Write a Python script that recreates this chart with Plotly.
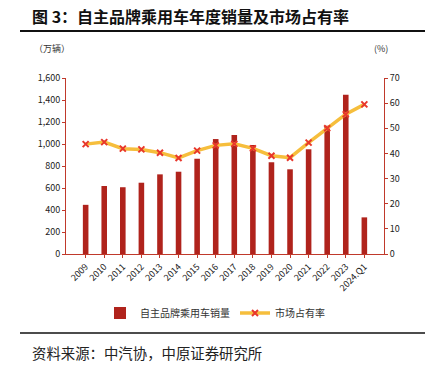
import plotly.graph_objects as go

categories = ["2009", "2010", "2011", "2012", "2013", "2014", "2015", "2016",
              "2017", "2018", "2019", "2020", "2021", "2022", "2023", "2024.Q1"]
sales = [447, 618, 607, 648, 724, 748, 866, 1045, 1082, 991, 834, 770, 952, 1166, 1448, 333]
share = [43.7, 44.5, 41.9, 41.6, 40.3, 38.2, 41.1, 43.2, 43.8, 42.0, 39.1, 38.3, 44.3, 50.0, 55.6, 59.5]

left_ticks = [0, 200, 400, 600, 800, 1000, 1200, 1400, 1600]
right_ticks = [0, 10, 20, 30, 40, 50, 60, 70]

RED = "#B0231C"
AXIS = "#C0392B"
FONT = "Noto Sans CJK SC"
W, H = 430.0, 371.0


def fx(px):
    return px / W


def fy(py):
    return 1 - py / H


fig = go.Figure()
fig.add_trace(go.Bar(x=categories, y=sales, name="自主品牌乘用车销量",
                     marker=dict(color=RED, line=dict(width=0)), width=0.3, yaxis="y"))
fig.add_trace(go.Scatter(x=categories, y=share, name="市场占有率", yaxis="y2",
                         mode="lines+markers",
                         line=dict(color="#F6BE3C", width=3.5),
                         marker=dict(symbol="x-thin", size=6, color="#E8372C",
                                     line=dict(color="#E8372C", width=2))))

# decorative header / footer rules on a full-page overlay axis (pixel units)
for y_px, lw in [(31, 2), (333, 1.5)]:
    fig.add_trace(go.Scatter(x=[20, 425], y=[y_px, y_px], xaxis="x3", yaxis="y3",
                             mode="lines", line=dict(color="#111", width=lw),
                             showlegend=False, hoverinfo="skip"))

fig.update_layout(
    width=430, height=371,
    margin=dict(l=0, r=0, t=0, b=0, autoexpand=False),
    paper_bgcolor="white", plot_bgcolor="rgba(0,0,0,0)",
    font=dict(family=FONT, size=10, color="#222"),
    showlegend=True,
    legend=dict(orientation="h", x=0.5, xanchor="center", y=fy(313), yanchor="middle",
                font=dict(size=10, color="#333"), tracegroupgap=0,
                bgcolor="rgba(0,0,0,0)"),
    xaxis=dict(type="category", domain=[fx(66), fx(384)], showline=True, linecolor=AXIS,
               linewidth=1, ticks="outside", tickcolor=AXIS, ticklen=3, tickangle=-45,
               tickfont=dict(size=9, family=FONT), showgrid=False),
    yaxis=dict(range=[0, 1600], domain=[fy(254), fy(78)], tickvals=left_ticks,
               ticktext=[f"{v:,}" for v in left_ticks],
               showline=True, linecolor=AXIS, linewidth=1, ticks="outside",
               tickcolor=AXIS, ticklen=3, showgrid=False, zeroline=False,
               tickfont=dict(size=9, family=FONT)),
    yaxis2=dict(range=[0, 70], tickvals=right_ticks, overlaying="y", side="right",
                showline=True, linecolor=AXIS, linewidth=1, ticks="outside",
                tickcolor=AXIS, ticklen=3, showgrid=False, zeroline=False,
                tickfont=dict(size=9, family=FONT)),
    xaxis3=dict(domain=[0, 1], range=[0, W], visible=False, anchor="y3", fixedrange=True),
    yaxis3=dict(domain=[0, 1], range=[H, 0], visible=False, anchor="x3", fixedrange=True),
    annotations=[
        dict(text="<b>图 3：自主品牌乘用车年度销量及市场占有率</b>", xref="paper", yref="paper",
             x=fx(30), y=fy(16), xanchor="left", yanchor="middle",
             showarrow=False, font=dict(size=16, color="#111", family=FONT)),
        dict(text="（万辆）", xref="paper", yref="paper", x=fx(32), y=fy(48),
             xanchor="left", yanchor="middle", showarrow=False,
             font=dict(size=9, color="#333")),
        dict(text="(%)", xref="paper", yref="paper", x=fx(372), y=fy(48),
             xanchor="left", yanchor="middle", showarrow=False,
             font=dict(size=9, color="#333")),
        dict(text="资料来源：中汽协，中原证券研究所", xref="paper", yref="paper",
             x=fx(30), y=fy(352), xanchor="left", yanchor="middle",
             showarrow=False, font=dict(size=14.4, color="#222")),
    ],
)

fig.write_html("out.html", config={"displayModeBar": False},
               post_script="document.body.style.margin='0';document.body.style.padding='0';")
